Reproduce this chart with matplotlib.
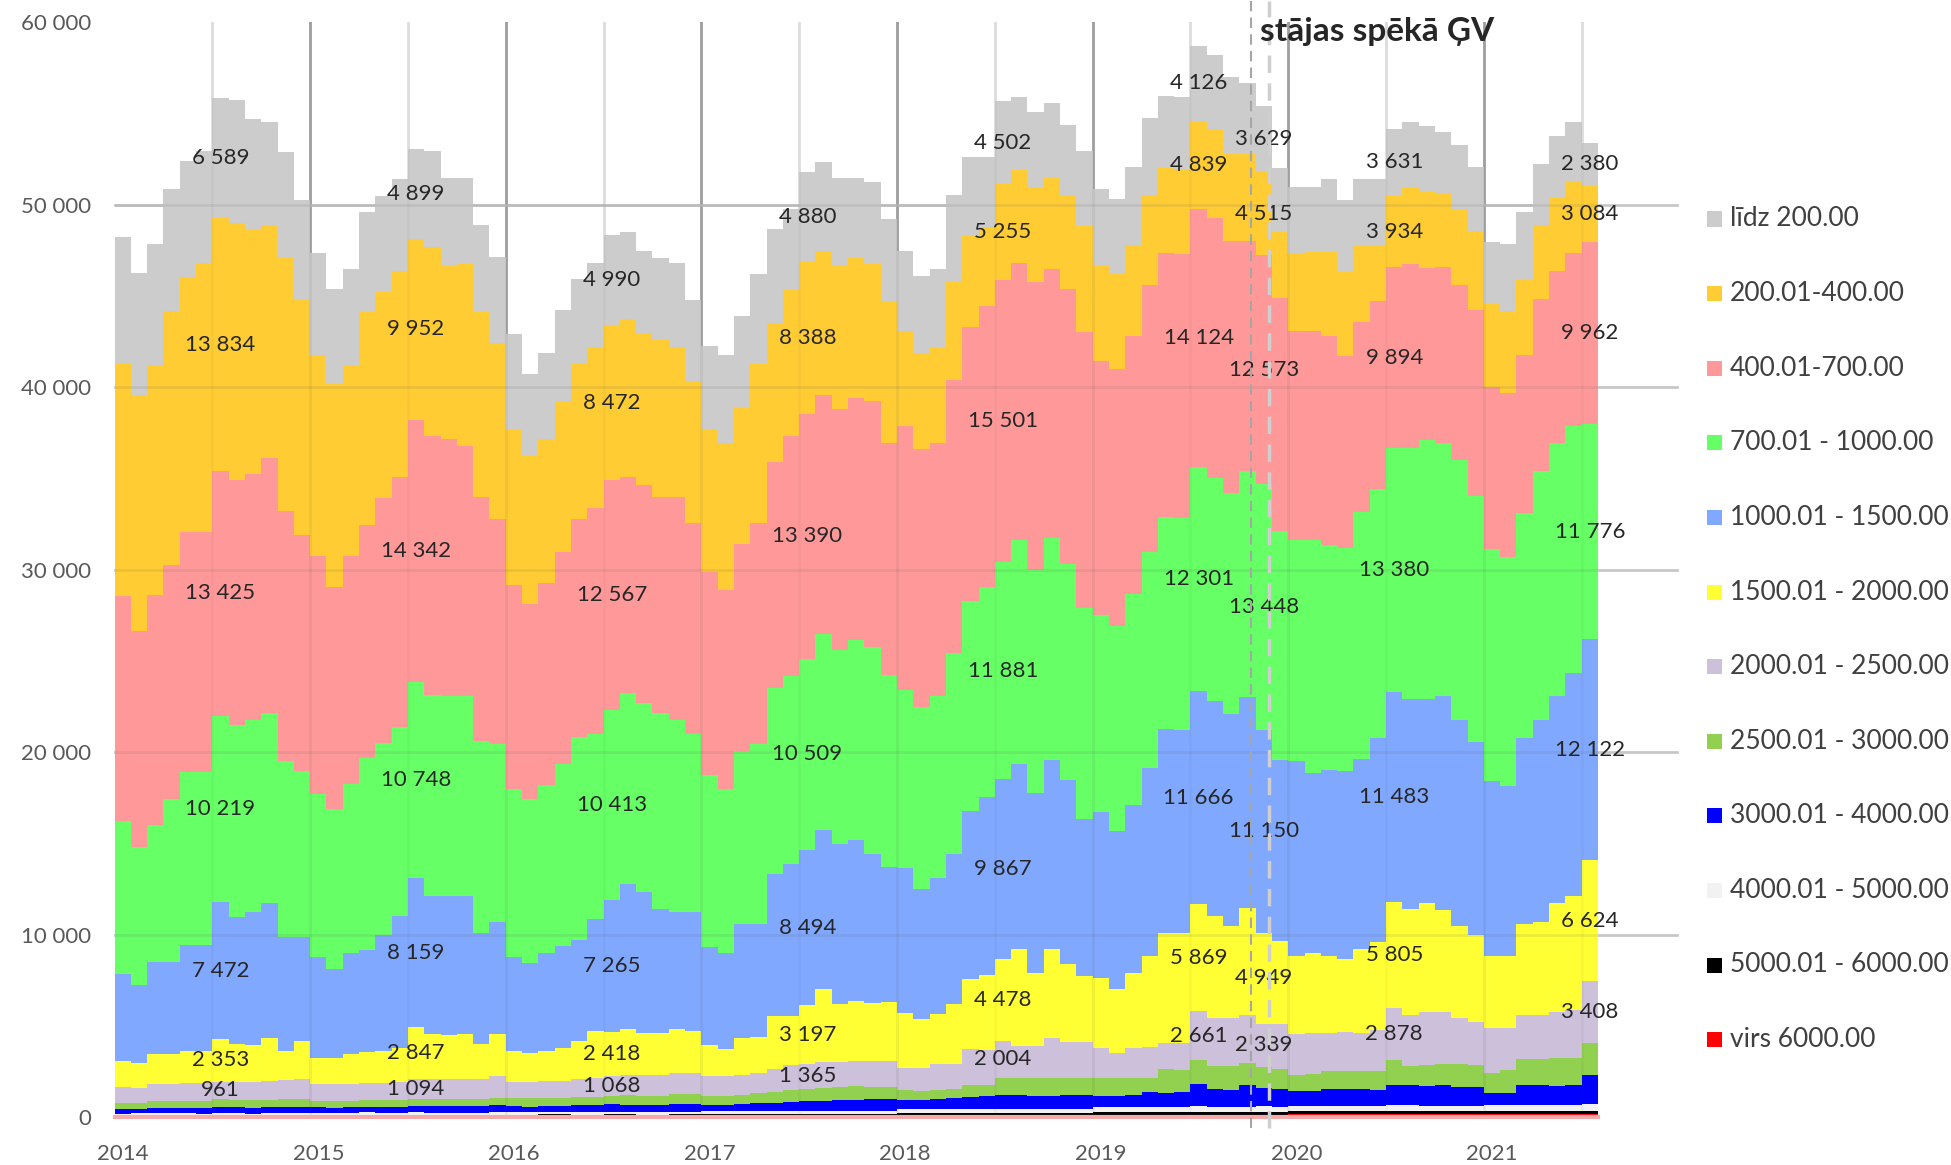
import numpy as np
import matplotlib
matplotlib.use("Agg")
import matplotlib.pyplot as plt
from matplotlib.patches import Rectangle

plt.rcParams['font.family'] = ['Lato', 'DejaVu Sans']

# mēneši: 2014-01 ... 2021-07 (91)
years = ['2014', '2015', '2016', '2017', '2018', '2019', '2020', '2021']
label_months = [6, 18, 30, 42, 54, 66, 70, 78, 90]

# sērijas no apakšas uz augšu
virs_6000 = [60, 55, 60, 65, 60, 55, 60, 65, 60, 55, 60, 65,
             70, 65, 70, 75, 70, 65, 70, 75, 70, 65, 70, 75,
             80, 75, 80, 85, 80, 75, 80, 85, 80, 75, 80, 85,
             95, 90, 95, 100, 95, 90, 95, 100, 95, 90, 95, 100,
             120, 115, 120, 125, 120, 115, 120, 125, 120, 115, 120, 125,
             150, 145, 150, 155, 150, 145, 150, 155, 150, 145, 150, 155,
             170, 165, 170, 175, 170, 165, 170, 175, 170, 165, 170, 175,
             185, 180, 185, 190, 185, 180, 185]
r5000_6000 = [50, 55, 60, 55, 50, 55, 60, 55, 50, 55, 60, 55,
              60, 65, 70, 65, 60, 65, 70, 65, 60, 65, 70, 65,
              70, 75, 80, 75, 70, 75, 80, 75, 70, 75, 80, 75,
              85, 90, 95, 90, 85, 90, 95, 90, 85, 90, 95, 90,
              110, 115, 120, 115, 110, 115, 120, 115, 110, 115, 120, 115,
              135, 140, 145, 140, 135, 140, 145, 140, 135, 140, 145, 140,
              155, 160, 165, 160, 155, 160, 165, 160, 155, 160, 165, 160,
              165, 170, 175, 170, 165, 170, 175]
r4000_5000 = [100, 110, 100, 105, 110, 100, 105, 110, 100, 105, 110, 105,
              120, 125, 120, 130, 125, 120, 130, 125, 120, 130, 125, 130,
              140, 145, 140, 150, 145, 140, 150, 145, 140, 150, 145, 150,
              170, 175, 170, 180, 175, 170, 180, 175, 170, 180, 175, 180,
              210, 215, 210, 220, 215, 210, 220, 215, 210, 220, 215, 220,
              260, 270, 260, 280, 270, 260, 320, 270, 260, 280, 320, 270,
              290, 300, 290, 310, 300, 290, 340, 320, 300, 310, 300, 290,
              310, 320, 330, 330, 320, 330, 380]
r3000_4000 = [260, 240, 280, 280, 300, 300, 320, 320, 310, 330, 340, 340,
              300, 280, 300, 320, 320, 340, 360, 360, 350, 360, 380, 390,
              320, 300, 320, 340, 360, 380, 400, 400, 390, 400, 420, 440,
              340, 320, 360, 400, 440, 500, 540, 560, 580, 600, 620, 630,
              530, 510, 540, 600, 700, 730, 750, 750, 750, 750, 760, 750,
              640, 620, 660, 790, 790, 840, 1190, 980, 980, 1190, 980, 980,
              820, 820, 910, 910, 910, 910, 1120, 1120, 1120, 1120, 1050, 1050,
              670, 670, 1070, 1070, 1070, 1070, 1590]
r2500_3000 = [340, 340, 380, 400, 400, 410, 450, 420, 430, 430, 430, 440,
              340, 360, 360, 360, 380, 370, 380, 380, 390, 400, 390, 410,
              430, 450, 460, 440, 440, 450, 471, 500, 510, 500, 530, 510,
              500, 520, 530, 540, 600, 640, 667, 680, 710, 740, 700, 690,
              520, 490, 490, 500, 650, 620, 970, 970, 970, 970, 960, 970,
              970, 990, 950, 820, 1280, 1230, 1340, 1270, 1270, 1250, 1160, 1090,
              910, 910, 1000, 1000, 1000, 1000, 1340, 1060, 1150, 1150, 1220, 1220,
              1100, 1280, 1430, 1430, 1520, 1520, 1730]
r2000_2500 = [880, 800, 970, 950, 980, 970, 961, 990, 990, 1020, 1060, 1100,
              950, 950, 930, 960, 940, 980, 1094, 1100, 1100, 1080, 1070, 1190,
              900, 900, 920, 920, 1000, 1020, 1068, 1100, 1150, 1150, 1200, 1200,
              1100, 1050, 1100, 1150, 1250, 1400, 1365, 1450, 1400, 1390, 1420, 1420,
              1220, 1270, 1420, 1350, 1930, 1930, 2004, 1740, 1740, 2200, 1960, 1960,
              1650, 1380, 1650, 1650, 1460, 1460, 2661, 2650, 2650, 2590, 2389, 2470,
              2240, 2280, 2110, 2140, 2110, 2240, 2878, 2770, 2860, 2860, 2530, 2350,
              2450, 2270, 2400, 2400, 2530, 2630, 3408]
r1500_2000 = [1390, 1390, 1600, 1600, 1740, 1740, 2353, 2050, 2050, 2370, 1590, 2090,
              1420, 1420, 1600, 1650, 1740, 1870, 2847, 2450, 2450, 2450, 1900, 2300,
              1690, 1600, 1660, 1820, 2090, 2580, 2418, 2520, 2290, 2290, 2370, 2250,
              1700, 1480, 2020, 1920, 2910, 2660, 3197, 3970, 3150, 3290, 3190, 3190,
              3020, 2650, 2750, 3300, 3840, 4110, 4478, 5300, 4020, 4840, 4260, 3620,
              3840, 3510, 4080, 4990, 6030, 6030, 5869, 5580, 5030, 5900, 4949, 4570,
              4260, 4360, 4210, 3990, 4600, 4850, 5805, 5790, 5990, 5610, 5050, 4770,
              3960, 3960, 5020, 5130, 5950, 6230, 6624]
r1000_1500 = [4780, 4250, 5060, 5060, 5810, 5810, 7472, 6990, 7250, 7370, 6220, 5670,
              5540, 4870, 5550, 5640, 6370, 7240, 8159, 7570, 7570, 7570, 6120, 6140,
              5170, 4890, 5340, 5550, 5560, 6150, 7265, 7940, 7740, 6800, 6430, 6550,
              5370, 5270, 6240, 6240, 7760, 8320, 8494, 8740, 8810, 8820, 8160, 7410,
              7930, 7150, 7450, 8250, 9200, 9740, 9867, 10130, 9870, 10360, 10070, 8580,
              9090, 8650, 9250, 10320, 11180, 11100, 11666, 11750, 11650, 11530, 11150, 9890,
              10700, 9870, 10200, 10270, 10390, 11160, 11483, 11540, 11160, 11730, 11270, 10580,
              9620, 9310, 10190, 11040, 11350, 12200, 12122]
r700_1000 = [8380, 7580, 7510, 8940, 9500, 9500, 10219, 10480, 10520, 10400, 9660, 9090,
             8940, 8750, 9270, 10510, 10490, 10330, 10748, 11040, 10960, 10960, 10520, 9770,
             9200, 9010, 9200, 9960, 11080, 10140, 10413, 10510, 10330, 10700, 10520, 9770,
             9390, 9010, 9470, 9850, 10210, 10330, 10509, 10700, 10630, 10960, 11330, 10510,
             9750, 10000, 10000, 10960, 11520, 11480, 11881, 12300, 12220, 12180, 11870, 11580,
             10770, 11240, 11530, 11860, 11610, 11660, 12301, 12240, 12110, 12390, 13448, 12580,
             12080, 12770, 12310, 12240, 13540, 13660, 13380, 13730, 14230, 13850, 14240, 13460,
             12700, 12550, 12310, 13660, 13850, 13580, 11776]
r400_700 = [12350, 11830, 12580, 12840, 13140, 13140, 13425, 13440, 13510, 14010, 13700, 12960,
            13030, 12200, 12510, 12770, 13470, 13710, 14342, 14190, 14090, 13710, 13330, 12310,
            11160, 10700, 11080, 11640, 11940, 12390, 12567, 11830, 11940, 11830, 12200, 11520,
            11160, 10890, 11340, 12080, 12400, 13140, 13390, 13140, 13210, 13260, 13450, 12760,
            14490, 14120, 13850, 14960, 15000, 15420, 15501, 15180, 15740, 14740, 15060, 15110,
            13940, 14060, 14120, 14620, 14460, 14460, 14124, 14240, 13790, 12630, 12573, 12740,
            11470, 11470, 11430, 10520, 10420, 10300, 9894, 10120, 9430, 9620, 9620, 10200,
            8850, 9000, 8660, 9430, 9420, 9430, 9962]
r200_400 = [12770, 12950, 12620, 13900, 13970, 14760, 13834, 14080, 13340, 12730, 13890, 12950,
            11000, 11080, 10440, 11640, 11270, 11270, 9952, 10330, 9570, 9950, 10140, 9650,
            8550, 8070, 7890, 8260, 8520, 8820, 8472, 8640, 8330, 8600, 8260, 7820,
            7800, 8070, 7430, 8750, 7620, 8000, 8388, 7890, 7890, 7690, 7510, 7710,
            5190, 5230, 5190, 5410, 5010, 4320, 5255, 5060, 5150, 5010, 5110, 5810,
            5190, 5190, 4990, 4940, 4630, 4630, 4839, 4860, 4760, 4760, 4515, 3620,
            4230, 4290, 4600, 4610, 4170, 3020, 3934, 4120, 4120, 4090, 4170, 4330,
            4540, 4480, 4140, 4030, 4000, 3900, 3084]
lidz_200 = [6860, 6670, 6640, 6690, 6320, 6100, 6589, 6770, 6100, 5650, 5780, 5380,
            5570, 5220, 5270, 5490, 5270, 5050, 4899, 5250, 4740, 4740, 4760, 4710,
            5210, 4510, 4720, 4980, 4650, 4570, 4990, 4760, 4510, 4510, 4590, 4430,
            4540, 4790, 5040, 4930, 5120, 4450, 4880, 4860, 4740, 4370, 4500, 4520,
            4400, 4260, 4350, 4730, 4330, 3830, 4502, 4020, 4170, 4090, 3890, 4090,
            4230, 4130, 4280, 4200, 3980, 3980, 4126, 4090, 4200, 3890, 3629, 3500,
            3630, 3570, 4030, 3930, 3660, 3660, 3631, 3650, 3660, 3330, 3470, 3480,
            3420, 3660, 3700, 3380, 3430, 3290, 2380]

series = [virs_6000, r5000_6000, r4000_5000, r3000_4000, r2500_3000, r2000_2500,
          r1500_2000, r1000_1500, r700_1000, r400_700, r200_400, lidz_200]
names = ['virs 6000.00', '5000.01 - 6000.00', '4000.01 - 5000.00', '3000.01 - 4000.00',
         '2500.01 - 3000.00', '2000.01 - 2500.00', '1500.01 - 2000.00', '1000.01 - 1500.00',
         '700.01 - 1000.00', '400.01-700.00', '200.01-400.00', 'līdz 200.00']
colors = ['#FF0000', '#000000', '#F2F2F2', '#0000FF', '#92D050', '#CCC0DA',
          '#FFFF33', '#80A8FF', '#66FF66', '#FF9999', '#FFCC33', '#CCCCCC']

W, H = 1951, 1165
fig = plt.figure(figsize=(W / 100, H / 100), dpi=100)
ax = fig.add_axes([114.5 / W, 1 - 1117.4 / H, (1598 - 114.5) / W, 1095 / H])

n = len(lidz_200)
edges = np.arange(n + 1) - 0.5
data = np.array(series, dtype=float)
tops = np.cumsum(data, axis=0)
bottoms = tops - data

for i in range(len(series)):
    ax.stairs(tops[i], edges, baseline=bottoms[i], fill=True, color=colors[i],
              linewidth=0, zorder=2)

# režģis
year_pos = np.arange(12, n, 12) - 0.5
half_pos = np.arange(6, n, 12) - 0.5
for x in year_pos:
    ax.plot([x, x], [0, 60000], color='#A6A6A6', lw=2, zorder=1)
    ax.plot([x, x], [0, 60000], color='#404040', lw=2, alpha=0.08, zorder=3)
for x in half_pos:
    ax.plot([x, x], [0, 60000], color='#E3E3E3', lw=2, zorder=1)
    ax.plot([x, x], [0, 60000], color='#404040', lw=2, alpha=0.04, zorder=3)
x_right = (1677 - 114.5) / 16.3 - 0.5
for v in range(10000, 60000, 10000):
    ax.plot([-0.5, x_right], [v, v], color='#C8C8C8', lw=2, zorder=1, clip_on=False)
    ax.plot([-0.5, n - 0.5], [v, v], color='#606060', lw=2, alpha=0.12, zorder=3)
ax.plot([-0.5, n - 0.5], [0, 0], color='#F4AAAA', lw=3, zorder=4, clip_on=False)

# vērtību etiķetes
for m in label_months:
    for i in range(5, len(series)):
        val = int(data[i, m])
        txt = '{:,}'.format(val).replace(',', ' ')
        ax.text(m, bottoms[i, m] + data[i, m] / 2, txt, ha='center', va='center',
                fontsize=16, color='#262626', zorder=5)

# GV vertikālās līnijas
trans = ax.get_xaxis_transform()
ax.plot([69.2, 69.2], [-0.01, 1.02], transform=trans, color='#A6A6A6', lw=1.5,
        ls=(0, (5, 3)), zorder=6, clip_on=False)
ax.plot([70.3, 70.3], [-0.01, 1.02], transform=trans, color='#CFCFCF', lw=2.5,
        ls=(0, (5, 3)), zorder=6, clip_on=False)
fig.text(1260 / W, 1 - 31 / H, 'stājas spēkā ĢV', ha='left', va='center',
         fontsize=24, fontweight='bold', color='#262626')

ax.set_xlim(-0.5, n - 0.5)
ax.set_ylim(0, 60000)
ax.set_yticks(range(0, 60001, 10000))
ax.set_yticklabels(['{:,}'.format(v).replace(',', ' ') for v in range(0, 60001, 10000)])
ax.set_xticks(np.arange(0, n, 12))
ax.set_xticklabels(years)
ax.tick_params(axis='y', length=0, pad=17, labelsize=16, labelcolor='#595959')
ax.tick_params(axis='x', length=0, pad=19, labelsize=16, labelcolor='#595959')
for s in ax.spines.values():
    s.set_visible(False)
ax.patch.set_alpha(0)

# leģenda
for k in range(len(series)):
    i = len(series) - 1 - k
    yc = 219 + k * 74.6
    fig.patches.append(Rectangle((1707 / W, 1 - (yc + 7.5) / H), 15 / W, 15 / H,
                                 transform=fig.transFigure, facecolor=colors[i],
                                 edgecolor='none'))
    fig.text(1730 / W, 1 - yc / H, names[i], ha='left', va='center',
             fontsize=19, color='#404040')

fig.savefig('out.png', dpi=100)
